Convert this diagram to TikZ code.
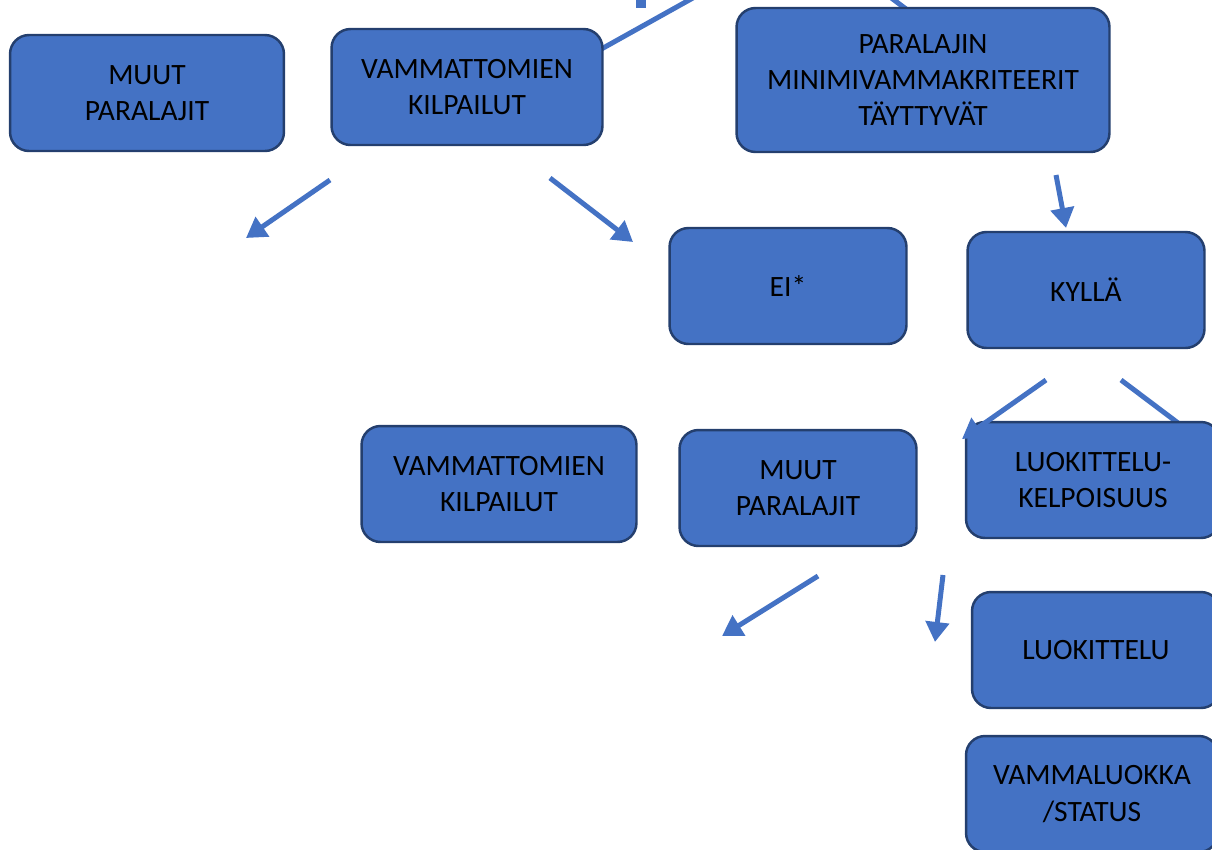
\documentclass[tikz,border=0pt]{standalone}
\usepackage{fontspec}
\setmainfont{Carlito}
\usetikzlibrary{arrows.meta}
\definecolor{boxblue}{HTML}{4472C4}
\definecolor{boxedge}{HTML}{243F6E}

\begin{document}
\begin{tikzpicture}[x=0.02cm, y=-0.02cm,
    box/.style={rectangle, rounded corners=0.38cm, draw=boxedge, line width=1.4pt, fill=boxblue, align=center, minimum height=2.32cm, inner sep=0pt, font=\fontsize{16.8}{20.6}\selectfont},
    flow/.style={draw=boxblue, line width=0.1cm, -{Triangle[width=0.46cm, length=0.4cm]}},
    bar/.style={draw=boxblue, line width=0.1cm}]
    \useasboundingbox (0,0) rectangle (1212,849);
    \clip (0,0) rectangle (1212,849);

    % pieces coming in from the top
    \coordinate(t1) at (596,52);
    \coordinate(t2) at (700,-6);
    \coordinate(t3) at (886,-6);
    \coordinate(t4) at (918,18);
    \draw [bar] (t1) -- (t2);
    \draw [bar] (t3) -- (t4);
    \fill [boxblue] (636,-2) rectangle (646,8);

    % right branch line under the box
    \coordinate(k2s) at (1121,380);
    \coordinate(k2e) at (1190,432);
    \draw [bar] (k2s) -- (k2e);

    % first row
    \node(101) at (147,93) [box, minimum width=5.48cm] {MUUT\\PARALAJIT};
    \node(102) at (467,87) [box, minimum width=5.42cm] {VAMMATTOMIEN\\KILPAILUT};
    \node(103) at (923,80) [box, minimum width=7.46cm, minimum height=2.88cm] {PARALAJIN\\MINIMIVAMMAKRITEERIT\\TÄYTTYVÄT};

    % second row
    \node(201) at (788,286) [box, minimum width=4.74cm] {EI*};
    \node(202) at (1086,290) [box, minimum width=4.74cm] {KYLLÄ};

    % third row
    \node(301) at (499,484) [box, minimum width=5.5cm] {VAMMATTOMIEN\\KILPAILUT};
    \node(302) at (798,488) [box, minimum width=4.74cm] {MUUT\\PARALAJIT};
    \node(303) at (1093,480) [box, minimum width=5.08cm] {LUOKITTELU-\\KELPOISUUS};

    % right column
    \node(401) at (1096,650) [box, minimum width=4.96cm] {LUOKITTELU};
    \node(402) at (1092,794) [box, minimum width=5.04cm] {VAMMALUOKKA\\/STATUS};

    % loose arrows
    \coordinate(a1s) at (330,180);
    \coordinate(a1e) at (246,238);
    \coordinate(a2s) at (550,178);
    \coordinate(a2e) at (633,242);
    \coordinate(a3s) at (1056,175);
    \coordinate(a3e) at (1066,228);
    \coordinate(a4s) at (1046,380);
    \coordinate(a4e) at (962,439);
    \coordinate(a6s) at (818,576);
    \coordinate(a6e) at (722,636);
    \coordinate(a7s) at (943,575);
    \coordinate(a7e) at (935,642);
    \draw [flow] (a1s) -- (a1e);
    \draw [flow] (a2s) -- (a2e);
    \draw [flow] (a3s) -- (a3e);
    \draw [flow] (a4s) -- (a4e);
    \draw [flow] (a6s) -- (a6e);
    \draw [flow] (a7s) -- (a7e);

\end{tikzpicture}
\end{document}
